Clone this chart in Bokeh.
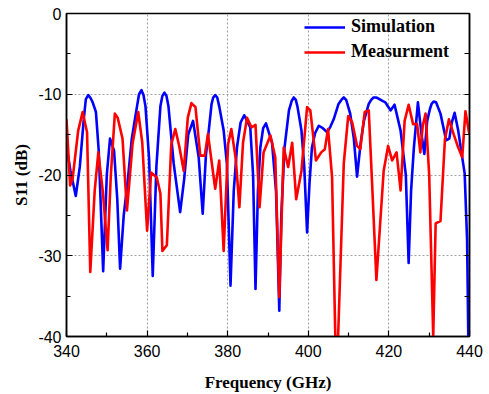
from bokeh.plotting import figure
from bokeh.models import LinearAxis, FixedTicker, Legend, LegendItem, Range1d
from bokeh.embed import file_html
from bokeh.resources import INLINE

# ---- data ----
sim_freq = [340.0, 341.0, 342.3, 343.3, 344.3, 344.8, 345.4, 346.0, 346.5, 347.3, 348.0, 349.1, 350.0, 350.8,
            351.8, 352.6, 353.3, 354.2, 355.2, 356.2, 357.2, 358.0, 358.6, 359.1, 359.6, 360.5, 361.4, 362.3,
            363.3, 363.8, 364.3, 364.8, 365.3, 366.6, 368.2, 369.2, 370.2, 371.4, 372.8, 373.8, 374.6, 375.3,
            376.0, 376.4, 376.9, 377.4, 377.9, 379.0, 379.8, 380.7, 381.5, 382.3, 383.2, 384.1, 385.6, 386.3,
            386.9, 387.5, 388.1, 388.8, 389.5, 391.0, 392.0, 392.8, 393.3, 394.1, 395.2, 395.9, 396.4,
            396.9, 397.3, 398.3, 399.0, 399.7, 400.3, 400.9, 401.7, 402.6, 403.6, 404.7, 405.5, 406.3,
            407.5, 408.2, 408.8, 409.4, 410.4, 411.3, 412.1, 413.0, 413.8, 415.0, 415.6, 416.2, 416.8, 417.3, 418.3, 419.1,
            420.4, 421.4, 422.9, 424.2, 424.9, 425.5, 426.2, 427.2, 428.1, 428.8, 429.5, 430.2, 430.6,
            431.1, 431.7, 432.8, 434.2, 435.0, 435.6, 436.3, 437.2, 438.0, 438.8, 439.4, 439.7]
sim_s11 = [-16.5, -19.5, -22.6, -19.0, -13.0, -10.6, -10.1, -10.5, -11.0, -12.2, -17.0, -31.9, -20.0, -15.5,
           -17.0, -23.0, -31.6, -25.0, -20.7, -15.5, -12.4, -10.0, -9.5, -10.1, -11.5, -18.0, -32.5, -19.0,
           -11.5, -10.2, -9.8, -10.2, -11.5, -18.6, -24.6, -20.5, -15.0, -13.3, -17.8, -24.8, -17.5, -14.5,
           -11.2, -10.4, -10.1, -10.4, -11.5, -14.5, -18.6, -33.7, -22.0, -16.6, -13.5, -12.6, -14.1, -20.0,
           -34.1, -22.0, -16.6, -14.2, -13.6, -16.0, -22.0, -36.8, -25.0, -16.6, -12.0, -10.8, -10.4,
           -10.7, -11.5, -14.5, -19.0, -27.1, -21.0, -16.6, -14.8, -13.9, -14.2, -14.7, -14.0, -13.1,
           -11.2, -10.7, -10.4, -10.7, -12.4, -15.5, -20.2, -16.0, -13.3, -11.2, -10.7, -10.4, -10.4, -10.5, -10.8, -11.0,
           -12.0, -11.3, -14.5, -20.0, -30.9, -22.0, -16.6, -11.0, -15.0, -17.4, -13.3, -11.8, -11.2,
           -10.9, -11.0, -12.4, -15.7, -15.5, -13.5, -12.3, -14.5, -17.2, -19.8, -28.0, -40.0]

meas_freq = [340.0, 340.9, 341.5, 342.9, 344.0, 345.1, 345.9, 347.0, 347.9, 349.0, 350.2, 351.0,
             352.0, 352.7, 353.9, 355.0, 356.4, 357.8, 358.8, 360.0, 361.0, 362.4, 363.3, 363.8,
             364.9, 366.0, 367.0, 368.0, 369.1, 370.1, 371.0, 372.0, 373.2, 374.3, 375.1, 376.9,
             377.9, 379.0, 380.1, 380.9, 382.0, 382.9, 383.8, 384.8, 385.9, 386.9, 387.9, 388.9,
             390.6, 391.8, 392.8, 393.9, 395.0, 396.0, 397.0, 398.3, 399.7, 400.5, 401.9, 403.2,
             404.1, 404.9, 405.9, 406.7, 407.4, 408.8, 409.9, 410.9, 412.1, 412.9, 414.0, 415.0,
             415.8, 416.9, 418.7, 419.8, 420.8, 421.9, 422.9, 423.9, 424.9, 426.0, 427.0, 427.8,
             428.4, 429.1, 430.0, 431.0, 431.6, 432.8, 433.9, 434.9, 436.1, 437.2, 438.2, 439.0,
             439.8, 440.0]
meas_s11 = [-13.1, -21.3, -20.5, -14.5, -12.2, -14.7, -32.0, -21.9, -17.2, -22.0, -29.3, -20.0,
            -12.4, -12.9, -15.5, -24.4, -16.1, -12.2, -16.0, -26.9, -19.7, -20.3, -22.3, -29.4,
            -28.7, -16.2, -14.3, -16.5, -19.5, -12.9, -11.1, -11.6, -17.6, -17.6, -14.9, -21.7,
            -18.2, -29.4, -16.2, -14.3, -18.0, -24.0, -16.0, -12.9, -14.1, -13.8, -24.0, -17.2,
            -15.1, -17.8, -35.1, -16.6, -19.0, -16.0, -23.0, -19.5, -11.6, -12.0, -18.2, -17.2,
            -16.8, -14.3, -20.3, -40.0, -40.0, -18.6, -12.7, -13.5, -16.4, -16.8, -12.2, -12.0,
            -20.7, -33.0, -19.5, -16.4, -18.2, -17.2, -21.9, -13.3, -11.3, -13.7, -13.7, -17.2,
            -13.9, -12.4, -20.0, -40.0, -26.0, -25.7, -15.6, -13.1, -15.0, -16.6, -17.8, -12.1,
            -14.5, -15.0]

x_ticks = [340, 360, 380, 400, 420, 440]
x_minor = [350, 370, 390, 410, 430]
y_ticks = [0, -10, -20, -30, -40]
y_minor = [-5, -15, -25, -35]
x_title = "Frequency (GHz)"
y_title = "S11 (dB)"
series_names = ["Simulation", "Measurment"]

p = figure(width=489, height=394, output_backend="svg", toolbar_location=None,
           x_range=Range1d(340, 440), y_range=Range1d(-40, 0),
           min_border_left=66, min_border_right=20, min_border_top=13, min_border_bottom=58)
p.background_fill_color = "white"
p.border_fill_color = "white"
p.outline_line_color = "black"
p.outline_line_width = 1.5

r_sim = p.line(sim_freq, sim_s11, line_color="#0000ff", line_width=2.6, line_join="round")
r_meas = p.line(meas_freq, meas_s11, line_color="#ff0000", line_width=2.6, line_join="round")

xt = FixedTicker(ticks=x_ticks, minor_ticks=x_minor)
yt = FixedTicker(ticks=y_ticks, minor_ticks=y_minor)

def style(ax):
    ax.axis_line_color = "black"
    ax.axis_line_width = 1.5
    ax.major_tick_in = 6
    ax.major_tick_out = 0
    ax.minor_tick_in = 4
    ax.minor_tick_out = 0
    ax.major_tick_line_width = 1.2
    ax.minor_tick_line_width = 1.2
    ax.major_tick_line_color = "black"
    ax.minor_tick_line_color = "black"
    ax.major_label_text_font = "Liberation Sans"
    ax.major_label_text_font_size = "16px"
    ax.major_label_text_color = "black"

xa = p.xaxis[0]
xa.ticker = xt
style(xa)
xa.major_label_overrides = {t: str(t) for t in x_ticks}
xa.major_label_standoff = 8
xa.axis_label = x_title
xa.axis_label_text_font = "Liberation Serif"
xa.axis_label_text_font_style = "bold"
xa.axis_label_text_font_size = "17px"
xa.axis_label_text_color = "black"
xa.axis_label_standoff = 13

ya = p.yaxis[0]
ya.ticker = yt
style(ya)
ya.major_label_overrides = {t: str(t) for t in y_ticks}
ya.major_label_standoff = 5
ya.axis_label = y_title
ya.axis_label_text_font = "Liberation Serif"
ya.axis_label_text_font_style = "bold"
ya.axis_label_text_font_size = "17px"
ya.axis_label_text_color = "black"
ya.axis_label_standoff = 4

# tick marks on the right frame edge: only minor-tick marks, so no labels are drawn
ra = LinearAxis(ticker=FixedTicker(ticks=[], minor_ticks=y_ticks + y_minor))
style(ra)
ra.minor_tick_in = 5
p.add_layout(ra, "right")

p.xgrid.ticker = xt
p.ygrid.ticker = yt
for g in (p.xgrid, p.ygrid):
    g.grid_line_color = "#a0a0a0"
    g.grid_line_dash = "2 2"
    g.grid_line_width = 1

legend = Legend(items=[LegendItem(label=series_names[0], renderers=[r_sim]),
                       LegendItem(label=series_names[1], renderers=[r_meas])],
                location=(238, 274))
legend.background_fill_alpha = 0
legend.border_line_alpha = 0
legend.padding = 0
legend.margin = 0
legend.spacing = 4
legend.glyph_width = 41
legend.glyph_height = 20
legend.label_height = 20
legend.label_standoff = 6
legend.label_text_font = "Liberation Serif"
legend.label_text_font_style = "bold"
legend.label_text_font_size = "18px"
legend.label_text_color = "black"
p.add_layout(legend, "center")

open("out.html", "w").write(file_html(p, INLINE))
